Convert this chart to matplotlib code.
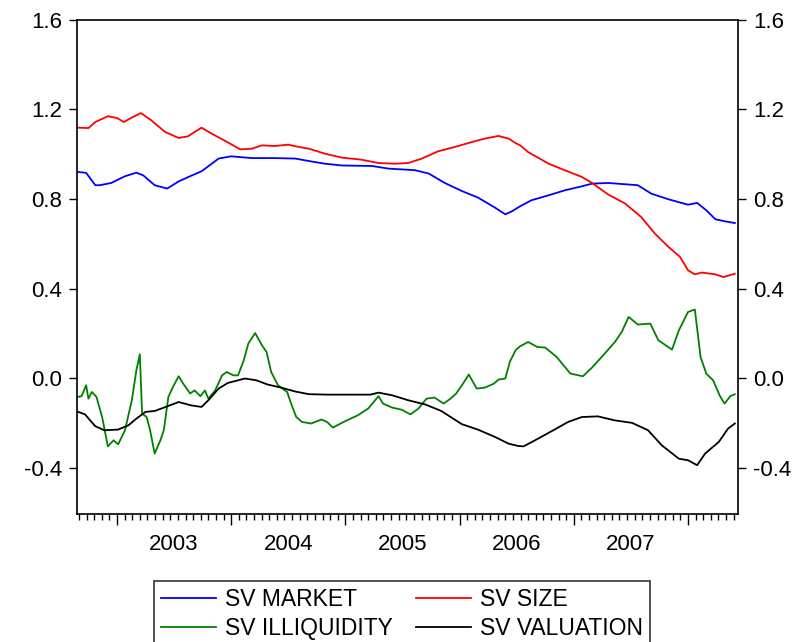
import numpy as np
import matplotlib
matplotlib.use("Agg")
import matplotlib.pyplot as plt

plt.rcParams['font.family'] = ['Liberation Sans', 'DejaVu Sans']

# dates as decimal years
market_t = [2002.66, 2002.73, 2002.81, 2002.85, 2002.89, 2002.95, 2003.01, 2003.07, 2003.17, 2003.23,
            2003.33, 2003.44, 2003.54, 2003.64, 2003.74, 2003.83, 2003.89, 2004.00, 2004.18, 2004.38,
            2004.56, 2004.68, 2004.82, 2004.97, 2005.23, 2005.38, 2005.61, 2005.73, 2005.87, 2006.02,
            2006.16, 2006.31, 2006.40, 2006.46, 2006.53, 2006.63, 2006.78, 2006.92, 2007.07, 2007.16,
            2007.30, 2007.56, 2007.68, 2007.83, 2008.00, 2008.08, 2008.16, 2008.24, 2008.32, 2008.41]
market = [0.921, 0.917, 0.862, 0.862, 0.866, 0.872, 0.887, 0.902, 0.918, 0.906,
          0.862, 0.847, 0.879, 0.902, 0.924, 0.958, 0.981, 0.991, 0.983, 0.983,
          0.981, 0.970, 0.958, 0.950, 0.948, 0.936, 0.929, 0.914, 0.872, 0.836,
          0.807, 0.762, 0.732, 0.746, 0.768, 0.795, 0.817, 0.839, 0.857, 0.869,
          0.872, 0.862, 0.824, 0.799, 0.775, 0.783, 0.750, 0.710, 0.701, 0.693]

size_t = [2002.66, 2002.75, 2002.81, 2002.92, 2003.00, 2003.06, 2003.13, 2003.21, 2003.30, 2003.42,
          2003.54, 2003.62, 2003.74, 2003.83, 2003.95, 2004.08, 2004.18, 2004.27, 2004.38, 2004.50,
          2004.59, 2004.68, 2004.82, 2004.97, 2005.14, 2005.29, 2005.43, 2005.55, 2005.67, 2005.81,
          2005.96, 2006.11, 2006.22, 2006.34, 2006.43, 2006.49, 2006.53, 2006.60, 2006.78, 2006.92,
          2007.07, 2007.16, 2007.30, 2007.45, 2007.59, 2007.71, 2007.83, 2007.93, 2008.00, 2008.06,
          2008.12, 2008.24, 2008.31, 2008.41]
size = [1.119, 1.117, 1.144, 1.170, 1.162, 1.144, 1.164, 1.184, 1.152, 1.100,
        1.073, 1.080, 1.119, 1.092, 1.059, 1.022, 1.025, 1.040, 1.037, 1.043,
        1.033, 1.025, 1.003, 0.985, 0.976, 0.961, 0.958, 0.961, 0.981, 1.013,
        1.033, 1.055, 1.070, 1.082, 1.070, 1.050, 1.040, 1.010, 0.958, 0.929,
        0.899, 0.872, 0.821, 0.780, 0.720, 0.646, 0.586, 0.542, 0.482, 0.464,
        0.472, 0.464, 0.452, 0.467]

illiq_t = [2002.66, 2002.69, 2002.73, 2002.75, 2002.78, 2002.82, 2002.87, 2002.92, 2002.97, 2003.01,
           2003.07, 2003.13, 2003.17, 2003.20, 2003.22, 2003.26, 2003.29, 2003.33, 2003.38, 2003.41,
           2003.45, 2003.49, 2003.54, 2003.58, 2003.64, 2003.68, 2003.73, 2003.77, 2003.80, 2003.86,
           2003.92, 2003.96, 2004.02, 2004.06, 2004.11, 2004.15, 2004.21, 2004.27, 2004.31, 2004.35,
           2004.41, 2004.49, 2004.53, 2004.57, 2004.62, 2004.70, 2004.79, 2004.84, 2004.89, 2005.00,
           2005.11, 2005.20, 2005.29, 2005.33, 2005.41, 2005.49, 2005.57, 2005.64, 2005.71, 2005.78,
           2005.86, 2005.92, 2005.97, 2006.03, 2006.08, 2006.15, 2006.22, 2006.30, 2006.34, 2006.40,
           2006.44, 2006.49, 2006.53, 2006.60, 2006.68, 2006.75, 2006.85, 2006.97, 2007.08, 2007.16,
           2007.27, 2007.36, 2007.42, 2007.48, 2007.56, 2007.67, 2007.74, 2007.86, 2007.92, 2008.00,
           2008.06, 2008.11, 2008.16, 2008.22, 2008.28, 2008.32, 2008.37, 2008.41]
illiq = [-0.083, -0.080, -0.031, -0.091, -0.061, -0.083, -0.173, -0.304, -0.277, -0.295,
         -0.232, -0.098, 0.036, 0.107, -0.158, -0.173, -0.232, -0.336, -0.277, -0.232,
         -0.083, -0.039, 0.009, -0.024, -0.068, -0.054, -0.080, -0.054, -0.091, -0.054,
         0.013, 0.028, 0.013, 0.013, 0.080, 0.155, 0.202, 0.147, 0.117, 0.028,
         -0.031, -0.061, -0.121, -0.173, -0.195, -0.202, -0.184, -0.195, -0.220, -0.191,
         -0.165, -0.135, -0.080, -0.113, -0.131, -0.140, -0.161, -0.135, -0.091, -0.086,
         -0.113, -0.091, -0.068, -0.024, 0.017, -0.046, -0.042, -0.024, -0.006, -0.001,
         0.073, 0.125, 0.143, 0.162, 0.140, 0.137, 0.095, 0.021, 0.009, 0.048,
         0.110, 0.162, 0.207, 0.274, 0.240, 0.244, 0.170, 0.128, 0.214, 0.296,
         0.307, 0.095, 0.021, -0.009, -0.080, -0.113, -0.080, -0.071]

valu_t = [2002.66, 2002.72, 2002.81, 2002.89, 2003.01, 2003.10, 2003.17, 2003.25, 2003.33, 2003.41,
          2003.54, 2003.65, 2003.74, 2003.80, 2003.89, 2003.97, 2004.12, 2004.22, 2004.32, 2004.44,
          2004.56, 2004.68, 2004.85, 2005.08, 2005.22, 2005.29, 2005.41, 2005.55, 2005.70, 2005.84,
          2006.02, 2006.16, 2006.31, 2006.43, 2006.51, 2006.56, 2006.66, 2006.81, 2006.95, 2007.07,
          2007.21, 2007.36, 2007.51, 2007.65, 2007.77, 2007.92, 2008.00, 2008.08, 2008.15, 2008.27,
          2008.35, 2008.41]
valu = [-0.150, -0.161, -0.214, -0.232, -0.229, -0.210, -0.180, -0.150, -0.146, -0.131,
        -0.106, -0.121, -0.128, -0.098, -0.046, -0.021, -0.001, -0.009, -0.028, -0.042,
        -0.059, -0.071, -0.073, -0.073, -0.073, -0.064, -0.076, -0.098, -0.117, -0.146,
        -0.205, -0.229, -0.262, -0.292, -0.302, -0.304, -0.277, -0.235, -0.195, -0.173,
        -0.170, -0.188, -0.199, -0.232, -0.299, -0.359, -0.366, -0.388, -0.336, -0.284,
        -0.225, -0.202]

years = [2003, 2004, 2005, 2006, 2007]
yticks = [-0.4, 0.0, 0.4, 0.8, 1.2, 1.6]
ytick_labels = ['-0.4', '0.0', '0.4', '0.8', '1.2', '1.6']

fig = plt.figure(figsize=(8.12, 6.42), dpi=100)
ax = fig.add_axes([0.0954, 0.199, 0.8135, 0.770])

ax.plot(market_t, market, color='#0000ff', lw=1.3, label='SV MARKET')
ax.plot(size_t, size, color='#ff0000', lw=1.3, label='SV SIZE')
ax.plot(illiq_t, illiq, color='#008000', lw=1.3, label='SV ILLIQUIDITY')
ax.plot(valu_t, valu, color='black', lw=1.3, label='SV VALUATION')

ax.set_yticks(yticks, ytick_labels)
ax.tick_params(axis='y', direction='out', length=6, width=1, pad=5,
               left=True, right=True, labelleft=True, labelright=True, labelsize=16)

# year ticks (long) and short in-between ticks, no labels on them
ax.set_xticks(years + [2008], [''] * 6)
ax.set_xticks(np.arange(2002, 2008.44, 1 / 15), minor=True)
ax.tick_params(axis='x', which='major', direction='out', length=8, width=1)
ax.tick_params(axis='x', which='minor', direction='out', length=4, width=1)

# limits after the ticks, so the tick lists do not widen the view
ax.set_xlim(2002.654, 2008.438)
ax.set_ylim(-0.607, 1.6)

sec = ax.secondary_xaxis('bottom')
sec.set_xticks([y + 0.5 for y in years], [str(y) for y in years])
sec.tick_params(length=0, pad=14, labelsize=16)
sec.spines['bottom'].set_visible(False)

for s in ax.spines.values():
    s.set_linewidth(1.2)

h, l = ax.get_legend_handles_labels()
order = [0, 2, 1, 3]
leg = fig.legend([h[i] for i in order], [l[i] for i in order], ncol=2,
                 loc='upper center', bbox_to_anchor=(402 / 812, 1 - 581 / 642),
                 fontsize=16.5, frameon=True, fancybox=False, edgecolor='black',
                 handlelength=2.4, handletextpad=0.4, columnspacing=1.0,
                 labelspacing=0.25, borderpad=0.3, borderaxespad=0)
leg.get_frame().set_linewidth(1.2)

plt.savefig('out.png', dpi=100)
